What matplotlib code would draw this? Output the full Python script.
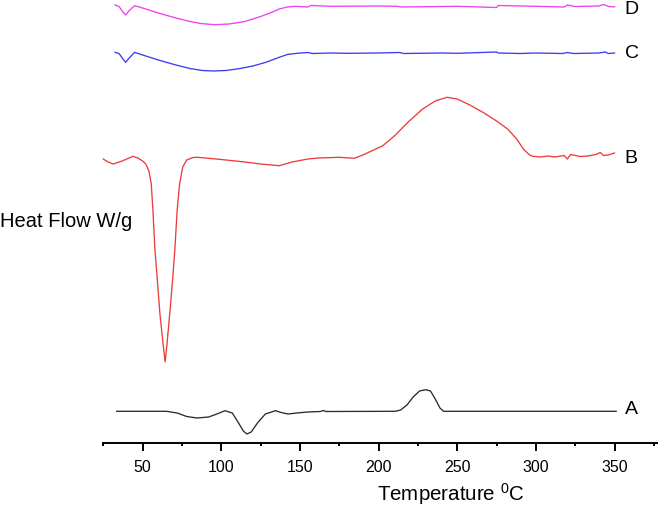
import matplotlib
matplotlib.use("Agg")
import matplotlib.pyplot as plt

plt.rcParams['font.family'] = ['Liberation Sans', 'DejaVu Sans']
plt.rcParams['mathtext.fontset'] = 'custom'
plt.rcParams['mathtext.rm'] = 'Liberation Sans'
plt.rcParams['mathtext.it'] = 'Liberation Sans'

# Curvas DSC (temperatura en °C, flujo de calor en unidades arbitrarias, ya desplazadas)
temp_a = [33.5, 65, 72, 78, 84.5, 92, 98, 102.3, 107, 111, 114, 116.3, 119, 123, 128, 134.5,
          138, 142.4, 148, 155, 163, 165, 166.5, 210.6, 214, 218, 222, 226, 230, 233, 236,
          239, 241.3, 351]
flow_a = [3.17, 3.17, 3.0, 2.65, 2.5, 2.6, 2.95, 3.23, 3.0, 2.0, 1.2, 0.9, 1.1, 2.0, 2.9, 3.23,
          3.05, 2.9, 3.0, 3.1, 3.15, 3.25, 3.15, 3.17, 3.3, 3.8, 4.6, 5.2, 5.33, 5.2, 4.4,
          3.5, 3.17, 3.17]

temp_b = [25, 28, 31.3, 37, 43.8, 47, 50, 52, 54, 55.5, 56.5, 57.8, 59.3, 61, 63, 64.3,
          65.5, 67.5, 69.1, 70.5, 72, 73.5, 75.5, 78, 82, 85, 100, 115, 125, 136.8, 145,
          155, 161.8, 175, 184.5, 190, 202.7, 210, 218.6, 228, 236, 243.4, 250, 258, 266.3,
          275, 282, 287.8, 292, 296, 298, 303, 308, 312, 318, 320, 322, 328, 333, 338, 341,
          343, 346, 350]
flow_b = [28.4, 28.1, 27.9, 28.2, 28.67, 28.5, 28.2, 27.9, 27.2, 25.9, 23.4, 19.4, 16.4, 12.9,
          9.9, 8.1, 9.9, 13.4, 16.4, 19.4, 23.4, 25.9, 27.6, 28.3, 28.55, 28.57, 28.35, 28.1,
          27.9, 27.73, 28.1, 28.4, 28.5, 28.57, 28.47, 28.8, 29.73, 30.7, 32.07, 33.4, 34.2,
          34.57, 34.4, 33.8, 33.07, 32.2, 31.4, 30.4, 29.4, 28.8, 28.67, 28.6, 28.7, 28.6,
          28.75, 28.4, 28.85, 28.65, 28.7, 28.85, 29.05, 28.75, 28.8, 29.0]

temp_c = [32.4, 35, 37.5, 39.2, 41.5, 44.9, 50, 60, 70, 80, 88, 95, 103, 112, 120, 128,
          136.8, 142, 148.1, 155, 158, 170, 180, 200, 213, 216, 240, 250, 275, 276, 290,
          300, 317, 320, 324, 340, 344, 346, 350]
flow_c = [39.07, 38.95, 38.4, 38.07, 38.5, 39.07, 38.8, 38.3, 37.85, 37.45, 37.25, 37.2,
          37.25, 37.45, 37.7, 38.05, 38.57, 38.85, 38.97, 39.05, 38.95, 39.0, 38.97, 39.0,
          39.05, 38.95, 39.0, 38.97, 39.1, 39.0, 38.95, 39.0, 38.95, 39.05, 38.95, 39.0,
          39.1, 38.95, 39.0]

temp_d = [32.4, 35, 37.5, 39.2, 41.5, 44.9, 50, 60, 70, 80, 88, 96, 105, 115, 125, 131,
          136.8, 142, 147, 155, 157, 170, 200, 212, 215, 250, 275, 276, 300, 318, 320,
          325, 340, 343, 346, 350]
flow_d = [43.8, 43.65, 43.1, 42.8, 43.25, 43.73, 43.5, 43.0, 42.55, 42.15, 41.93, 41.83,
          41.9, 42.15, 42.65, 43.0, 43.4, 43.6, 43.67, 43.6, 43.75, 43.67, 43.7, 43.67,
          43.6, 43.67, 43.55, 43.75, 43.67, 43.6, 43.8, 43.65, 43.7, 43.85, 43.65, 43.62]

curve_labels = ['A', 'B', 'C', 'D']
label_flow = [3.47, 28.57, 39.0, 43.47]
colors = ['#2b2b2b', '#ee3b3b', '#3c3cf0', '#f040f0']

fig = plt.figure(figsize=(6.58, 5.06), dpi=100)
ax = fig.add_axes([103.3 / 658, 62 / 506, (658 - 103.3) / 658, 444 / 506])

series = [(temp_a, flow_a), (temp_b, flow_b), (temp_c, flow_c), (temp_d, flow_d)]
for (t, f), col in zip(series, colors):
    ax.plot(t, f, color=col, lw=0.95, clip_on=False)

for lab, y in zip(curve_labels, label_flow):
    ax.text(356.5, y, lab, fontsize=14, va='center', ha='left')

ax.set_xlim(25, 377.6)
ax.set_ylim(0, 44.4)
for s in ['top', 'right', 'left']:
    ax.spines[s].set_visible(False)
ax.spines['bottom'].set_linewidth(1.4)
ax.set_yticks([])
ax.set_xticks(range(50, 351, 50))
ax.set_xticks(range(25, 376, 50), minor=True)
ax.tick_params(axis='x', which='major', length=5.5, width=1.4, labelsize=11.5, pad=6)
ax.tick_params(axis='x', which='minor', length=2.5, width=1.4)

# Etiquetas de ejes (el texto de temperatura está corrido a la derecha en el original)
fig.text(450.5 / 658, 1 - 494 / 506, 'Temperature $^{0}$C', fontsize=14.8,
         va='center', ha='center')
fig.text(0, 1 - 221.7 / 506, 'Heat Flow W/g', fontsize=14.5, va='center', ha='left')

fig.savefig('out.png', dpi=100)
